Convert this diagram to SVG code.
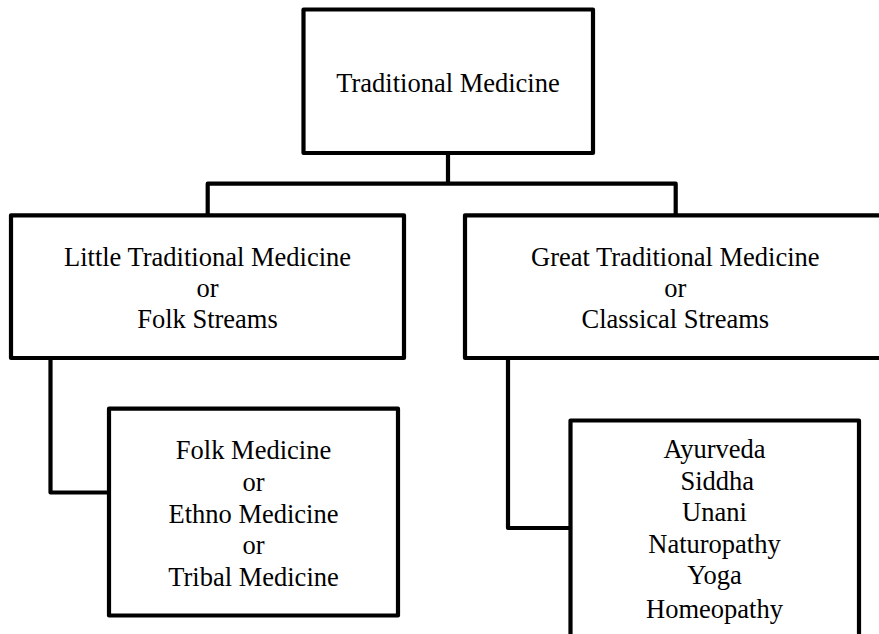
<svg xmlns="http://www.w3.org/2000/svg" width="879" height="634" viewBox="0 0 879 634">
<style>
.box{fill:#fff;stroke:#000;stroke-width:4.2;stroke-linejoin:round}
.conn{fill:none;stroke:#000;stroke-width:4.2;stroke-linejoin:round;stroke-linecap:square}
text{font-family:"Liberation Serif","Times New Roman",serif;font-size:26.5px;fill:#000;text-anchor:middle}
</style>
<rect width="879" height="634" fill="#fff"/>
<g id="connectors">
<path class="conn" d="M448,153 V183.7 M207.7,215 V183.7 H675.7 V215"/>
<path class="conn" d="M50.5,358 V492.5 H109"/>
<path class="conn" d="M508,358 V528 H570.5"/>
</g>
<g id="traditional-medicine">
<rect class="box" x="303.5" y="9.5" width="289.5" height="143.5"/>
<text x="448" y="92">Traditional Medicine</text>
</g>
<g id="little-traditional">
<rect class="box" x="11" y="215.3" width="393" height="142.7"/>
<text x="207.5" y="266">Little Traditional Medicine</text>
<text x="207.5" y="297">or</text>
<text x="207.5" y="328">Folk Streams</text>
</g>
<g id="great-traditional">
<rect class="box" x="465" y="215.3" width="430" height="142.7"/>
<text x="675.3" y="266">Great Traditional Medicine</text>
<text x="675.3" y="297">or</text>
<text x="675.3" y="328">Classical Streams</text>
</g>
<g id="folk-medicine">
<rect class="box" x="109" y="408.7" width="289" height="206.8"/>
<text x="253.5" y="459.3">Folk Medicine</text>
<text x="253.5" y="491">or</text>
<text x="253.5" y="522.7">Ethno Medicine</text>
<text x="253.5" y="554.3">or</text>
<text x="253.5" y="585.5">Tribal Medicine</text>
</g>
<g id="classical-systems">
<rect class="box" x="570.5" y="420.5" width="288.5" height="230"/>
<text x="714.5" y="458.3">Ayurveda</text>
<text x="717.3" y="489.8">Siddha</text>
<text x="714.5" y="521.3">Unani</text>
<text x="714.5" y="552.7">Naturopathy</text>
<text x="714.5" y="584">Yoga</text>
<text x="714.5" y="618">Homeopathy</text>
</g>
</svg>
